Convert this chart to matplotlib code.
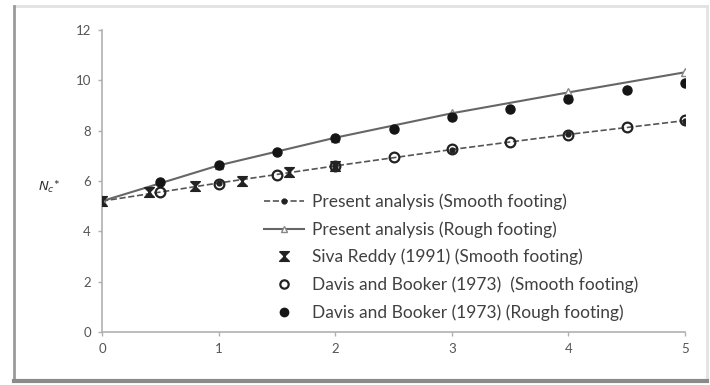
import matplotlib.pyplot as plt
from matplotlib.lines import Line2D

plt.rcParams['font.family'] = ['Lato', 'DejaVu Sans']

# present analysis (integer B/D values)
x_present = [0, 1, 2, 3, 4, 5]
smooth_present = [5.2, 5.92, 6.6, 7.25, 7.85, 8.4]
rough_present = [5.2, 6.62, 7.72, 8.69, 9.52, 10.32]

# Siva Reddy (1991), smooth
x_siva = [0, 0.4, 0.8, 1.2, 1.6, 2.0]
siva_smooth = [5.2, 5.55, 5.8, 6.0, 6.35, 6.6]

# Davis and Booker (1973)
x_davis = [0.5, 1, 1.5, 2, 2.5, 3, 3.5, 4, 4.5, 5]
davis_smooth = [5.58, 5.9, 6.25, 6.6, 6.95, 7.26, 7.54, 7.82, 8.13, 8.41]
davis_rough = [5.97, 6.64, 7.15, 7.72, 8.08, 8.53, 8.85, 9.24, 9.6, 9.9]

xticks = [0, 1, 2, 3, 4, 5]
yticks = [0, 2, 4, 6, 8, 10, 12]

fig = plt.figure(figsize=(7.1, 3.85), dpi=100)

# picture frame: faint top/right, shadowed left/bottom
L, R, B, T = 14 / 710, 707 / 710, 1 - 381 / 385, 1 - 6 / 385
fig.add_artist(Line2D([L, R], [T, T], transform=fig.transFigure,
                      color='#e2e2e2', lw=2))
fig.add_artist(Line2D([R, R], [B, T], transform=fig.transFigure,
                      color='#e2e2e2', lw=2))
fig.add_artist(Line2D([L, L], [B, T], transform=fig.transFigure,
                      color='#9a9a9a', lw=2))
fig.add_artist(Line2D([L, R], [B, B], transform=fig.transFigure,
                      color='#8a8a8a', lw=3))

ax = fig.add_axes([0.1437, 0.1377, 0.8211, 0.7844])
ax.set_facecolor('none')

hourglass = [(-1, 1), (1, 1), (-1, -1), (1, -1), (-1, 1)]

ax.plot(x_present, smooth_present, '--', color='#555555', lw=1.2,
        marker='o', ms=3.5, mfc='#222222', mec='#222222', zorder=3)
ax.plot(x_present, rough_present, '-', color='#666666', lw=1.5,
        marker='^', ms=6, mfc='white', mec='#888888', zorder=3)
ax.plot(x_siva, siva_smooth, ls='none', marker=hourglass, ms=7,
        color='#222222', zorder=4)
ax.plot(x_davis, davis_smooth, ls='none', marker='o', ms=7, mfc='none',
        mec='#222222', mew=1.6, zorder=4)
ax.plot(x_davis, davis_rough, ls='none', marker='o', ms=6.5,
        color='#151515', zorder=4)

ax.set_xlim(0, 5)
ax.set_ylim(0, 12)
ax.set_xticks(xticks)
ax.set_yticks(yticks)
for s in ['top', 'right']:
    ax.spines[s].set_visible(False)
for s in ['left', 'bottom']:
    ax.spines[s].set_color('#b0b0b0')
    ax.spines[s].set_linewidth(1.2)
ax.tick_params(colors='#b0b0b0', labelcolor='#555555', labelsize=9.5,
               length=3, width=1, pad=5)

ax.text(-0.36, 5.75, r'$N_c$*', transform=ax.transData, ha='right',
        va='center', fontsize=9.5, color='#333333')

handles = [
    Line2D([], [], ls='--', color='#555555', lw=1.2, marker='o', ms=3.5,
           mfc='#222222', mec='#222222'),
    Line2D([], [], ls='-', color='#666666', lw=1.5, marker='^', ms=5,
           mfc='white', mec='#888888'),
    Line2D([], [], ls='none', marker=hourglass, ms=7, color='#222222'),
    Line2D([], [], ls='none', marker='o', ms=6, mfc='none', mec='#222222',
           mew=1.6),
    Line2D([], [], ls='none', marker='o', ms=6, color='#151515'),
]
labels = [
    'Present analysis (Smooth footing)',
    'Present analysis (Rough footing)',
    'Siva Reddy (1991) (Smooth footing)',
    'Davis and Booker (1973)  (Smooth footing)',
    'Davis and Booker (1973) (Rough footing)',
]
fig.legend(handles, labels, loc='upper left', bbox_to_anchor=(0.359, 0.52),
           frameon=False, fontsize=12.5, labelspacing=0.64, handlelength=2.3,
           handletextpad=0.5, labelcolor='#404040', borderpad=0)

fig.savefig('out.png', dpi=100)
